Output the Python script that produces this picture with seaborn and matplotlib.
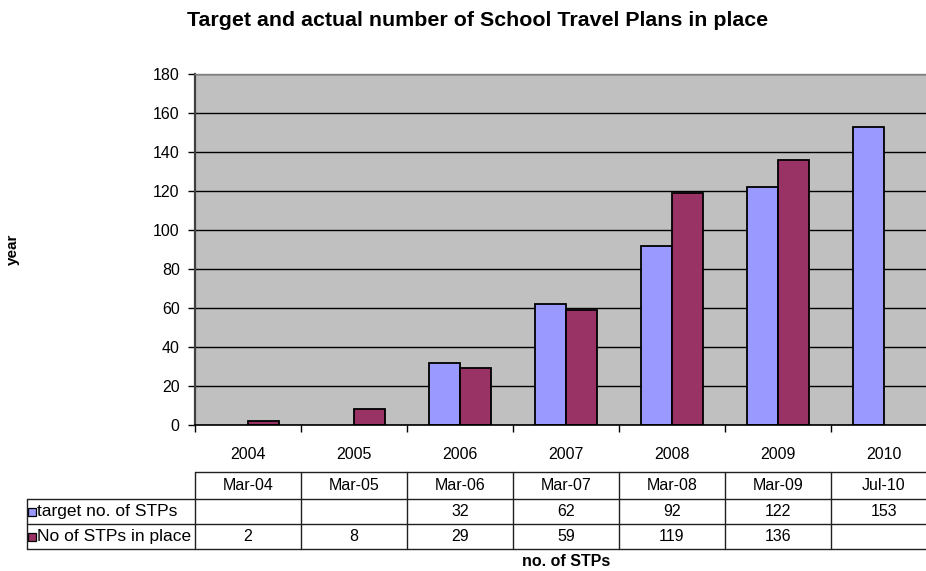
import numpy as np
import pandas as pd
import seaborn as sns
import matplotlib
matplotlib.use("Agg")
import matplotlib.pyplot as plt
from matplotlib.lines import Line2D
from matplotlib.patches import Rectangle
from matplotlib.ticker import FixedLocator
from matplotlib.transforms import blended_transform_factory

# --- data -------------------------------------------------------------
years = ["2004", "2005", "2006", "2007", "2008", "2009", "2010"]
dates = ["Mar-04", "Mar-05", "Mar-06", "Mar-07", "Mar-08", "Mar-09", "Jul-10"]
target = [np.nan, np.nan, 32, 62, 92, 122, 153]
in_place = [2, 8, 29, 59, 119, 136, np.nan]
series_names = ["target no. of STPs", "No of STPs in place"]
series_colors = ["#9999FF", "#993366"]
y_ticks = [0, 20, 40, 60, 80, 100, 120, 140, 160, 180]

title = "Target and actual number of School Travel Plans in place"
x_title = "no. of STPs"
y_title = "year"

# --- style -------------------------------------------------------------
sns.set_theme(style="white")
plt.rcParams["font.family"] = ["Liberation Sans", "DejaVu Sans"]

W, H = 926, 571
fig = plt.figure(figsize=(W / 100, H / 100), dpi=100)
fig.patch.set_facecolor("white")

# plot area in pixels (right edge runs past the canvas)
px_left, px_right, px_top, px_bottom = 195, 937, 74, 425
ax = fig.add_axes([px_left / W, 1 - px_bottom / H,
                   (px_right - px_left) / W, (px_bottom - px_top) / H])
ax.set_facecolor("#C0C0C0")


def fy(py):
    return 1 - py / H


def fx(px):
    return px / W


df = pd.DataFrame({
    "year": years * 2,
    "series": [series_names[0]] * len(years) + [series_names[1]] * len(years),
    "value": target + in_place,
})

sns.barplot(data=df, x="year", y="value", hue="series", order=years,
            hue_order=series_names,
            palette=dict(zip(series_names, series_colors)), saturation=1,
            width=0.585, edgecolor="black", linewidth=1.3,
            errorbar=None, legend=False, ax=ax, zorder=3)

ax.set_xlim(-0.5, len(years) - 0.5)
ax.set_ylim(y_ticks[0], y_ticks[-1])
ax.set_yticks(y_ticks)
ax.yaxis.grid(True, color="black", linewidth=1.0)
ax.xaxis.grid(False)
ax.set_axisbelow(True)

ax.set_xlabel("")
ax.set_ylabel("")

for side in ["left", "top", "right", "bottom"]:
    ax.spines[side].set_visible(True)
ax.spines["left"].set_color("#404040")
ax.spines["left"].set_linewidth(1.6)
ax.spines["top"].set_color("#808080")
ax.spines["top"].set_linewidth(1.0)
ax.spines["right"].set_visible(False)
ax.spines["bottom"].set_color("black")
ax.spines["bottom"].set_linewidth(1.2)
ax.spines["bottom"].set_zorder(4)

ax.tick_params(axis="y", left=True, direction="out", length=5, width=1,
               color="black", labelsize=11.5, pad=6, labelcolor="black")
ax.set_xticks(range(len(years)))
ax.set_xticklabels(years)
ax.tick_params(axis="x", which="major", bottom=True, length=0,
               labelsize=11.5, pad=16, labelcolor="black")
ax.xaxis.set_minor_locator(FixedLocator(np.arange(-0.5, len(years), 1.0)))
ax.tick_params(axis="x", which="minor", bottom=True, direction="out",
               length=5, width=1, color="black")

# --- data table under the axis ----------------------------------------
tr = blended_transform_factory(ax.transData, fig.transFigure)
row_edges = [471.7, 499.0, 524.3, 549.0]
label_left = 26.7
line_kw = dict(color="#202020", linewidth=1.0)

# horizontal rules
fig.add_artist(Line2D([fx(px_left), fx(px_right)], [fy(row_edges[0])] * 2,
                      transform=fig.transFigure, **line_kw))
for py in row_edges[1:]:
    fig.add_artist(Line2D([fx(label_left), fx(px_right)], [fy(py)] * 2,
                          transform=fig.transFigure, **line_kw))
# vertical rules
fig.add_artist(Line2D([fx(label_left)] * 2, [fy(row_edges[1]), fy(row_edges[-1])],
                      transform=fig.transFigure, **line_kw))
for xb in np.arange(-0.5, len(years), 1.0):
    ax.plot([xb, xb], [fy(row_edges[0]), fy(row_edges[-1])], transform=tr,
            clip_on=False, **line_kw)

header_y = (row_edges[0] + row_edges[1]) / 2
row_ys = [(row_edges[1] + row_edges[2]) / 2, (row_edges[2] + row_edges[3]) / 2]
for i, d in enumerate(dates):
    ax.text(i, fy(header_y), d, transform=tr, ha="center", va="center",
            fontsize=11.5, color="black")
for series, ry in zip([target, in_place], row_ys):
    for i, v in enumerate(series):
        if not np.isnan(v):
            ax.text(i, fy(ry), f"{v:.0f}", transform=tr, ha="center",
                    va="center", fontsize=11.5, color="black")

# row labels with colour keys
key = 8
for name, color, ry in zip(series_names, series_colors, row_ys):
    fig.add_artist(Rectangle((fx(27.5), fy(ry + key / 2)), key / W, key / H,
                             transform=fig.transFigure, facecolor=color,
                             edgecolor="black", linewidth=0.9))
    fig.text(fx(37), fy(ry), name, ha="left", va="center", fontsize=12.5,
             color="black")

# --- titles ------------------------------------------------------------
fig.text(fx(478), fy(20), title, ha="center", va="center", fontsize=15.4,
         fontweight="bold", color="black")
fig.text(fx((px_left + px_right) / 2), fy(562), x_title, ha="center",
         va="center", fontsize=11.5, fontweight="bold", color="black")
fig.text(fx(13), fy(249), y_title, ha="center", va="center", rotation=90,
         fontsize=11, fontweight="bold", color="black")

fig.savefig("out.png", dpi=100)
